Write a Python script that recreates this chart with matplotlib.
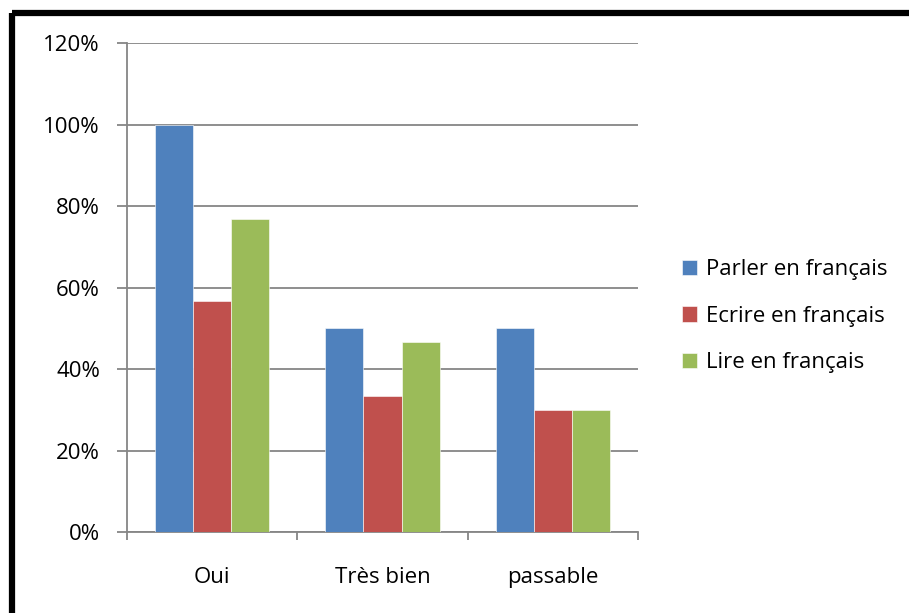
import numpy as np
import matplotlib
matplotlib.use("Agg")
import matplotlib.pyplot as plt
from matplotlib.lines import Line2D
from matplotlib.ticker import FuncFormatter

categories = ["Oui", "Très bien", "passable"]
series_names = ["Parler en français", "Ecrire en français", "Lire en français"]
parler = [1.00, 0.50, 0.50]
ecrire = [0.567, 0.333, 0.30]
lire = [0.767, 0.467, 0.30]
y_ticks = [0, 0.2, 0.4, 0.6, 0.8, 1.0, 1.2]

colors = ["#4F81BD", "#C0504D", "#9BBB59"]
plt.rcParams['font.family'] = ['Open Sans', 'DejaVu Sans']

fig = plt.figure(figsize=(9.09, 6.13), dpi=100)
ax = fig.add_axes([0.1397, 0.1321, 0.5622, 0.7977])

x = np.arange(len(categories))
w = 0.224
for i, (vals, name) in enumerate(zip([parler, ecrire, lire], series_names)):
    ax.bar(x + (i - 1) * w, vals, width=w, color=colors[i], label=name,
           edgecolor="white", linewidth=0.4, zorder=3)

ax.set_xlim(-0.5, len(categories) - 0.5)
ax.set_ylim(0, 1.2)
ax.set_yticks(y_ticks)
ax.yaxis.set_major_formatter(FuncFormatter(lambda v, _: f"{v * 100:.0f}%"))
ax.set_xticks(x)
ax.set_xticklabels(categories)
ax.set_xticks(np.arange(len(categories) + 1) - 0.5, minor=True)
ax.tick_params(axis="x", which="major", length=0, pad=25, labelsize=16)
ax.tick_params(axis="x", which="minor", length=6, width=1.3, color="#868686", direction="out")
ax.tick_params(axis="y", length=7, width=1.3, color="#868686", labelsize=16, pad=12.5)

ax.grid(axis="y", color="#868686", linewidth=1.3, zorder=0)
for side in ["top", "right"]:
    ax.spines[side].set_visible(False)
for side in ["left", "bottom"]:
    ax.spines[side].set_color("#868686")
    ax.spines[side].set_linewidth(1.3)

leg = fig.legend(loc="center left", bbox_to_anchor=(0.728, 0.484), frameon=False,
                 fontsize=16, handlelength=0.7, handleheight=0.7,
                 handletextpad=0.4, labelspacing=1.15)

# black frame on top and left edges
fig.add_artist(Line2D([0.0132, 1.0], [0.9788, 0.9788], color="black", linewidth=4.5,
                      transform=fig.transFigure, solid_capstyle="butt"))
fig.add_artist(Line2D([0.0132, 0.0132], [0.0, 0.9788], color="black", linewidth=4.5,
                      transform=fig.transFigure, solid_capstyle="butt"))

fig.savefig("out.png", dpi=100)
